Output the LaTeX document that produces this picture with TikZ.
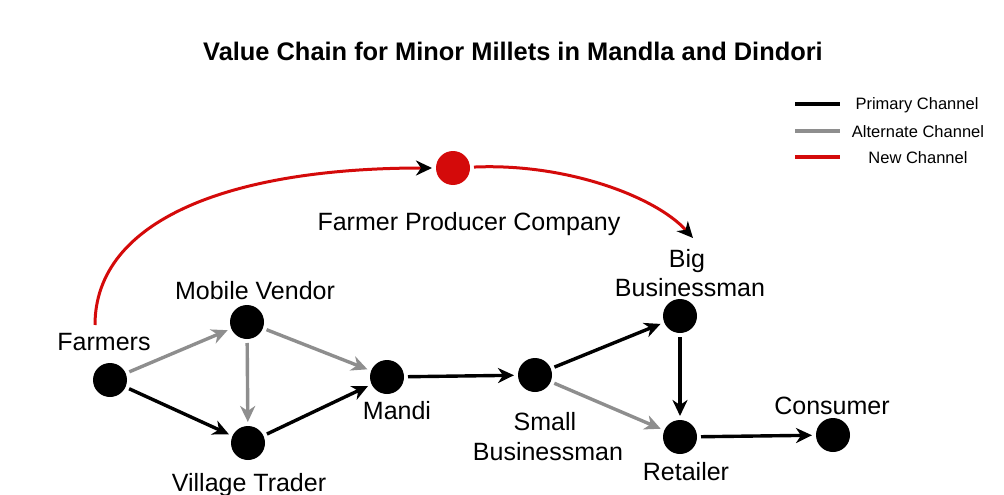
\documentclass[tikz,border=0pt]{standalone}
\usepackage{fontspec}
\setmainfont{Liberation Sans}
\usetikzlibrary{arrows.meta}
\definecolor{primary}{HTML}{000000}
\definecolor{alternate}{HTML}{8E8E8E}
\definecolor{newch}{HTML}{D40A0A}
\tikzset{
  dot/.style={circle, fill=black, minimum size=34pt, inner sep=0pt, outer sep=4pt},
  reddot/.style={dot, fill=newch},
  lbl/.style={anchor=base, inner sep=0pt, font=\fontsize{25}{29}\selectfont},
  leg/.style={anchor=base, inner sep=0pt, font=\fontsize{16.5}{20}\selectfont},
  tip/.style={-{Stealth[length=16pt,width=15pt,inset=5pt]}},
  prim/.style={tip, line width=3.4pt, draw=primary},
  alt/.style={tip, line width=3.4pt, draw=alternate},
  newc/.style={line width=3pt, draw=newch, -{Stealth[length=16pt,width=15pt,inset=5pt,black]}},
  legline/.style={line width=4pt}
}
\begin{document}
\begin{tikzpicture}[x=1pt, y=-1pt]
\useasboundingbox (0,0) rectangle (1004,495);

% title
\node[anchor=base, inner sep=0pt, font=\bfseries\fontsize{25.4}{29}\selectfont] (title) at (513,61)
  {Value Chain for Minor Millets in Mandla and Dindori};

% legend
\coordinate (l1a) at (795,104); \coordinate (l1b) at (840,104);
\coordinate (l2a) at (795,131); \coordinate (l2b) at (840,131);
\coordinate (l3a) at (795,157); \coordinate (l3b) at (840,157);
\draw[legline, primary] (l1a) -- (l1b);
\draw[legline, alternate] (l2a) -- (l2b);
\draw[legline, newch] (l3a) -- (l3b);
\node[leg] (leg1) at (917,110) {Primary Channel};
\node[leg] (leg2) at (918,137) {Alternate Channel};
\node[leg] (leg3) at (918,163) {New Channel};

% actors
\node[dot] (farm) at (110,380) {};
\node[dot] (mv) at (247,322) {};
\node[dot] (vt) at (248,443) {};
\node[dot] (mandi) at (387,377) {};
\node[dot] (small) at (535,375) {};
\node[dot] (big) at (680,316) {};
\node[dot] (ret) at (680,437) {};
\node[dot] (cons) at (833,435) {};
\node[reddot] (fpc) at (453,168) {};

% actor names
\node[lbl] (farmT) at (104,350) {Farmers};
\node[lbl] (mvT) at (255,299) {Mobile Vendor};
\node[lbl] (vtT) at (249,491) {Village Trader};
\node[lbl] (mandiT) at (397,419) {Mandi};
\node[lbl] (fpcT) at (469,230) {Farmer Producer Company};
\node[lbl] (bigT1) at (687,267) {Big};
\node[lbl] (bigT2) at (690,296) {Businessman};
\node[lbl] (smallT1) at (545,430) {Small};
\node[lbl] (smallT2) at (548,460) {Businessman};
\node[lbl] (retT) at (686,480) {Retailer};
\node[lbl] (consT) at (832,414) {Consumer};

% channels
\draw[alt] (farm) -- (mv);
\draw[prim] (farm) -- (vt);
\draw[alt] (mv) -- (vt);
\draw[alt] (mv) -- (mandi);
\draw[prim] (vt) -- (mandi);
\draw[prim] (mandi) -- (small);
\draw[prim] (small) -- (big);
\draw[alt] (small) -- (ret);
\draw[prim] (big) -- (ret);
\draw[prim] (ret) -- (cons);

% new channel through the producer company
\coordinate (rs) at (95,325);
\coordinate (re) at (693,238);
\draw[newc] (rs) .. controls (95,220) and (230,168) .. (fpc);
\draw[newc] (fpc) .. controls (565,163) and (655,196) .. (re);
\end{tikzpicture}
\end{document}
